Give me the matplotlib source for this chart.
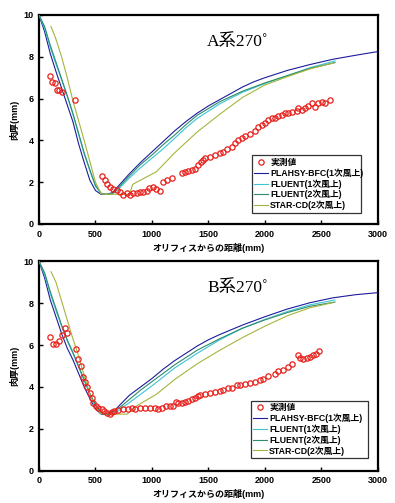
import matplotlib
matplotlib.use("Agg")
import matplotlib.pyplot as plt

plt.rcParams['font.family'] = ['Liberation Sans', 'Noto Sans CJK JP', 'DejaVu Sans']

# ---------------- Panel A data ----------------
A_title = "A系270˚"
A_meas_x = [97, 118, 142, 157, 177, 200, 319,
            555, 584, 599, 628, 658, 687, 717, 746, 776, 805, 835, 864, 894, 923, 953, 977,
            1006, 1036, 1071, 1100, 1130, 1174, 1262, 1292, 1321, 1351, 1380, 1410, 1430, 1450,
            1469, 1513, 1557, 1602, 1631, 1661, 1705, 1735, 1764, 1794, 1823, 1867, 1912, 1941,
            1971, 2000, 2029, 2059, 2089, 2118, 2148, 2177, 2206, 2236, 2280, 2295, 2325, 2354,
            2383, 2413, 2443, 2472, 2502, 2531, 2575]
A_meas_y = [7.1, 6.81, 6.73, 6.41, 6.41, 6.3, 5.92,
            2.30, 2.1, 1.91, 1.75, 1.67, 1.63, 1.55, 1.39, 1.5, 1.39, 1.5, 1.47, 1.52, 1.52, 1.6, 1.71,
            1.79, 1.68, 1.6, 2.02, 2.1, 2.18, 2.42, 2.47, 2.55, 2.58, 2.62, 2.82, 2.95, 3.05,
            3.14, 3.22, 3.3, 3.38, 3.46, 3.57, 3.7, 3.86, 4.02, 4.1, 4.21, 4.31, 4.46, 4.62,
            4.74, 4.85, 4.98, 5.05, 5.09, 5.17, 5.21, 5.3, 5.33, 5.38, 5.42, 5.53, 5.45, 5.57,
            5.65, 5.8, 5.61, 5.77, 5.85, 5.77, 5.93]

A_plahsy_x = [0, 50, 100, 150, 200, 250, 300, 350, 400, 450, 500, 550, 600, 650, 700, 800, 900,
              1000, 1100, 1200, 1300, 1400, 1500, 1600, 1700, 1800, 1900, 2000, 2200, 2400, 2600,
              2800, 3000]
A_plahsy_y = [10, 9.2, 8.15, 7.3, 6.5, 5.7, 4.9, 3.85, 2.95, 2.1, 1.6, 1.42, 1.42, 1.5, 1.8, 2.4,
              2.95, 3.45, 3.95, 4.45, 4.9, 5.3, 5.65, 5.95, 6.25, 6.55, 6.8, 7.0, 7.35, 7.63, 7.88,
              8.07, 8.25]

A_fl1_x = [0, 50, 100, 150, 200, 250, 300, 350, 400, 450, 500, 550, 600, 650, 700, 800, 900,
           1000, 1100, 1200, 1300, 1400, 1600, 1800, 2000, 2200, 2400, 2620]
A_fl1_y = [10, 9.35, 8.45, 7.65, 6.9, 6.1, 5.25, 4.3, 3.35, 2.55, 1.8, 1.45, 1.42, 1.45, 1.65,
           2.2, 2.7, 3.15, 3.6, 4.1, 4.6, 5.05, 5.75, 6.3, 6.72, 7.1, 7.48, 7.8]

A_fl2_x = [0, 50, 100, 150, 200, 250, 300, 350, 400, 450, 500, 550, 600, 650, 700, 800, 900,
           1000, 1100, 1200, 1300, 1400, 1600, 1800, 2000, 2200, 2400, 2620]
A_fl2_y = [10, 9.45, 8.55, 7.75, 6.95, 6.15, 5.3, 4.35, 3.4, 2.6, 1.85, 1.47, 1.42, 1.45, 1.72,
           2.3, 2.85, 3.3, 3.8, 4.25, 4.75, 5.2, 5.85, 6.35, 6.75, 7.1, 7.45, 7.72]

A_star_x = [106, 150, 200, 250, 300, 350, 400, 450, 500, 550, 600, 700, 800, 830, 1040, 1200,
            1400, 1600, 1800, 2000, 2200, 2400, 2600]
A_star_y = [9.45, 8.85, 8.0, 7.0, 5.9, 4.95, 4.0, 3.0, 2.0, 1.45, 1.42, 1.42, 1.42, 1.9, 2.5, 3.4,
            4.4, 5.25, 6.05, 6.65, 7.05, 7.42, 7.7]

# ---------------- Panel B data ----------------
B_title = "B系270˚"
B_meas_x = [97, 127, 148, 177, 207, 230, 245, 327, 348, 369, 386, 407, 428, 451, 466, 481, 504,
            525, 555, 575, 599, 628, 643, 664, 702, 746, 790, 820, 850, 894, 938, 982, 1027, 1056,
            1086, 1124, 1159, 1189, 1212, 1233, 1262, 1292, 1321, 1351, 1380, 1410, 1425, 1469,
            1513, 1557, 1602, 1631, 1675, 1705, 1749, 1779, 1823, 1867, 1912, 1956, 1985, 2029,
            2089, 2118, 2157, 2206, 2236, 2295, 2310, 2339, 2369, 2398, 2428, 2452, 2481]
B_meas_y = [6.39, 6.07, 6.07, 6.17, 6.49, 6.82, 6.58, 5.79, 5.31, 4.99, 4.48, 4.23, 4.01, 3.69,
            3.48, 3.24, 3.08, 2.97, 2.93, 2.85, 2.77, 2.69, 2.8, 2.85, 2.89, 2.93, 2.93, 2.97, 2.93,
            3.0, 2.97, 2.97, 2.97, 2.93, 2.97, 3.08, 3.11, 3.11, 3.3, 3.22, 3.22, 3.3, 3.35, 3.4,
            3.48, 3.56, 3.6, 3.64, 3.69, 3.77, 3.8, 3.85, 3.93, 3.93, 4.1, 4.1, 4.13, 4.17, 4.25,
            4.33, 4.37, 4.53, 4.6, 4.75, 4.8, 4.96, 5.07, 5.52, 5.4, 5.34, 5.4, 5.45, 5.5, 5.57,
            5.72]

B_plahsy_x = [0, 50, 100, 150, 200, 250, 300, 350, 400, 450, 500, 550, 600, 650, 700, 800, 900,
              1000, 1100, 1200, 1300, 1400, 1500, 1600, 1800, 2000, 2200, 2400, 2600, 2800, 3000]
B_plahsy_y = [10, 9.2, 8.15, 7.35, 6.55, 5.85, 5.3, 4.65, 4.0, 3.45, 2.95, 2.7, 2.68, 2.75, 3.05,
              3.6, 4.0, 4.4, 4.85, 5.25, 5.6, 5.95, 6.25, 6.5, 6.95, 7.35, 7.72, 8.02, 8.25, 8.4,
              8.5]

B_fl1_x = [0, 50, 100, 150, 200, 250, 300, 350, 400, 450, 500, 550, 600, 700, 800, 900, 1000,
           1200, 1400, 1600, 1800, 2000, 2200, 2400, 2620]
B_fl1_y = [10, 9.35, 8.45, 7.65, 6.9, 6.2, 5.6, 4.95, 4.3, 3.65, 3.1, 2.75, 2.7, 2.85, 3.25, 3.65,
           4.05, 4.9, 5.6, 6.25, 6.8, 7.22, 7.6, 7.92, 8.15]

B_fl2_x = [0, 50, 100, 150, 200, 250, 300, 350, 400, 450, 500, 550, 600, 700, 800, 900, 1000,
           1200, 1400, 1600, 1800, 2000, 2200, 2400, 2620]
B_fl2_y = [10, 9.45, 8.55, 7.75, 6.95, 6.25, 5.65, 5.0, 4.35, 3.7, 3.15, 2.78, 2.7, 2.95, 3.4,
           3.85, 4.25, 5.05, 5.75, 6.3, 6.8, 7.2, 7.55, 7.85, 8.05]

B_star_x = [106, 150, 200, 250, 300, 350, 400, 450, 500, 550, 600, 700, 780, 850, 1040, 1200,
            1400, 1600, 1800, 2000, 2200, 2400, 2600]
B_star_y = [9.5, 9.0, 8.1, 7.2, 6.3, 5.5, 4.55, 3.65, 3.0, 2.72, 2.7, 2.7, 2.7, 3.05, 3.65, 4.35,
            5.1, 5.75, 6.35, 6.9, 7.4, 7.78, 8.02]

labels = ["実測値", "PLAHSY-BFC(1次風上)", "FLUENT(1次風上)", "FLUENT(2次風上)", "STAR-CD(2次風上)"]
x_ticks = [0, 500, 1000, 1500, 2000, 2500, 3000]
y_ticks = [0, 2, 4, 6, 8, 10]
xlabel = "オリフィスからの距離(mm)"
ylabel = "肉厚(mm)"

c_meas = "#e8201c"
c_plahsy = "#1c1c9c"
c_fl1 = "#3cc4d4"
c_fl2 = "#2e8c6a"
c_star = "#a8b43c"

fig = plt.figure(figsize=(3.95, 5.03), dpi=100)

panels = [
    ([0.0987, 0.5547, 0.858, 0.4155], A_title, A_meas_x, A_meas_y,
     (A_plahsy_x, A_plahsy_y), (A_fl1_x, A_fl1_y), (A_fl2_x, A_fl2_y), (A_star_x, A_star_y),
     (0.628, 0.053, 0.322, 0.272)),
    ([0.0987, 0.0642, 0.858, 0.4165], B_title, B_meas_x, B_meas_y,
     (B_plahsy_x, B_plahsy_y), (B_fl1_x, B_fl1_y), (B_fl2_x, B_fl2_y), (B_star_x, B_star_y),
     (0.625, 0.06, 0.345, 0.26)),
]

for rect, title, mx, my, pl, f1, f2, st, lbox in panels:
    ax = fig.add_axes(rect)
    ax.plot(mx, my, 'o', ls='none', mfc='none', mec=c_meas, ms=3.8, mew=0.9, label=labels[0], zorder=4)
    ax.plot(pl[0], pl[1], color=c_plahsy, lw=0.8, label=labels[1], zorder=3)
    ax.plot(f1[0], f1[1], color=c_fl1, lw=0.8, label=labels[2], zorder=3)
    ax.plot(f2[0], f2[1], color=c_fl2, lw=0.8, label=labels[3], zorder=3)
    ax.plot(st[0], st[1], color=c_star, lw=0.8, label=labels[4], zorder=3)
    ax.set_xlim(0, 3000)
    ax.set_ylim(0, 10)
    ax.set_xticks(x_ticks)
    ax.set_yticks(y_ticks)
    ax.tick_params(direction='in', length=3, width=1, labelsize=6.5, pad=4,
                   top=False, right=False)
    for lab in ax.get_xticklabels() + ax.get_yticklabels():
        lab.set_fontweight('bold')
    for s in ax.spines.values():
        s.set_linewidth(1.6)
    ax.set_xlabel(xlabel, fontsize=6.5, fontweight='bold', labelpad=3)
    ax.set_ylabel(ylabel, fontsize=6.5, fontweight='bold', labelpad=3)
    ax.text(0.496, 0.872, title, transform=ax.transAxes, fontsize=12.5, va='center', ha='left',
            family=['Liberation Serif', 'Noto Sans CJK JP'])
    leg = ax.legend(loc='lower left', bbox_to_anchor=lbox, mode='expand',
                    fontsize=6.3, frameon=True, fancybox=False, borderpad=0.3,
                    labelspacing=0.15, handlelength=1.6, handletextpad=0.2, borderaxespad=0)
    leg.get_frame().set_edgecolor('black')
    leg.get_frame().set_linewidth(0.9)
    for t in leg.get_texts():
        t.set_fontweight('bold')

fig.savefig("out.png", dpi=100)
